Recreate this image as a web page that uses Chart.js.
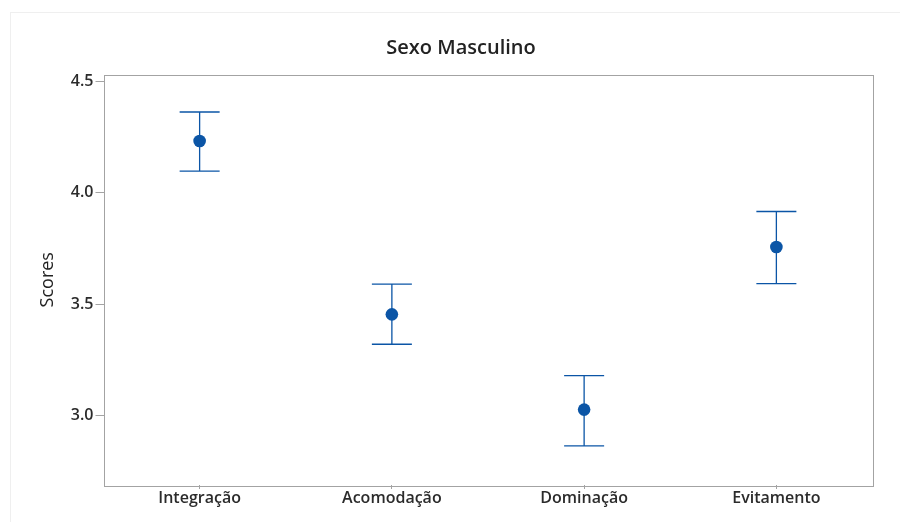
<!DOCTYPE html>
<html>
<head>
<meta charset="utf-8">
<script src="https://cdn.jsdelivr.net/npm/chart.js@4.4.1/dist/chart.umd.min.js"></script>
<style>
  html, body { margin: 0; padding: 0; background: #ffffff; }
  #wrap { position: relative; width: 900px; height: 522px; overflow: hidden; }
  #sheet { position: absolute; left: 10px; top: 12px; width: 900px; height: 520px;
           border-left: 1px solid #efefef; border-top: 1px solid #efefef; }
  #c { position: absolute; left: 0; top: 0; }
</style>
</head>
<body>
<div id="wrap">
  <div id="sheet"></div>
  <canvas id="c" width="900" height="522"></canvas>
</div>
<script>
// Interval plot: mean score with its interval for each conflict-management style
const categories = ['Integração', 'Acomodação', 'Dominação', 'Evitamento'];
const means      = [4.232, 3.455, 3.028, 3.757];
const lowerBound = [4.097, 3.321, 2.865, 3.593];
const upperBound = [4.362, 3.590, 3.180, 3.916];
const yTicks     = [3.0, 3.5, 4.0, 4.5];

const BLUE = '#0b55a6';
const FRAME = '#a3a3a3';
const TEXT = '#2b2b2b';
const FONT = "'Open Sans', 'Noto Sans', sans-serif";

// Whisker lines with end caps, placed through the chart's own scales
const intervalBars = {
  id: 'intervalBars',
  beforeDatasetsDraw(chart) {
    const { ctx, scales: { x, y } } = chart;
    const cap = 20;
    ctx.save();
    ctx.strokeStyle = BLUE;
    ctx.lineWidth = 1.3;
    categories.forEach((c, i) => {
      const px = x.getPixelForValue(i);
      const top = y.getPixelForValue(upperBound[i]);
      const bot = y.getPixelForValue(lowerBound[i]);
      ctx.beginPath();
      ctx.moveTo(px, top); ctx.lineTo(px, bot);
      ctx.moveTo(px - cap, top); ctx.lineTo(px + cap, top);
      ctx.moveTo(px - cap, bot); ctx.lineTo(px + cap, bot);
      ctx.stroke();
    });
    ctx.restore();
  }
};

// Box around the data region
const plotFrame = {
  id: 'plotFrame',
  afterDraw(chart) {
    const { ctx, chartArea: a } = chart;
    ctx.save();
    ctx.strokeStyle = FRAME;
    ctx.lineWidth = 1;
    ctx.strokeRect(Math.round(a.left) + 0.5, Math.round(a.top) + 0.5,
                   Math.round(a.right - a.left), Math.round(a.bottom - a.top));
    ctx.restore();
  }
};

new Chart(document.getElementById('c'), {
  type: 'line',
  data: {
    labels: categories,
    datasets: [{
      data: means,
      showLine: false,
      pointRadius: 6.3,
      pointHoverRadius: 6.3,
      pointBackgroundColor: BLUE,
      pointBorderColor: BLUE,
      pointBorderWidth: 0
    }]
  },
  options: {
    responsive: false,
    animation: false,
    events: [],
    layout: { padding: { left: 49.5, right: 27.5, top: 0, bottom: 0 } },
    plugins: {
      legend: { display: false },
      tooltip: { enabled: false },
      title: {
        display: true,
        text: 'Sexo Masculino',
        color: '#222222',
        font: { family: FONT, size: 20, weight: '600', lineHeight: 1.2 },
        padding: { top: 36, bottom: 14.5 }
      }
    },
    scales: {
      x: {
        type: 'category',
        offset: true,
        border: { display: false },
        grid: { display: true, drawOnChartArea: false, drawTicks: true, tickLength: 4, color: FRAME, offset: false },
        ticks: { color: TEXT, padding: 0, font: { family: FONT, size: 16, weight: '600' }, maxRotation: 0 },
        afterFit(s) { s.height = 37; }
      },
      y: {
        min: 2.69,
        max: 4.53,
        border: { display: false },
        grid: { display: true, drawOnChartArea: false, drawTicks: true, tickLength: 8, color: FRAME },
        ticks: {
          color: TEXT,
          padding: 2,
          font: { family: FONT, size: 16, weight: '600' },
          callback: v => Number(v).toFixed(1)
        },
        afterBuildTicks(s) { s.ticks = yTicks.map(v => ({ value: v })); },
        title: {
          display: true,
          text: 'Scores',
          color: '#222222',
          font: { family: FONT, size: 18, weight: '400', lineHeight: 1.2 },
          padding: { top: -12, bottom: 0 }
        },
        afterFit(s) { s.width = 54; }
      }
    }
  },
  plugins: [intervalBars, plotFrame]
});
</script>
</body>
</html>
